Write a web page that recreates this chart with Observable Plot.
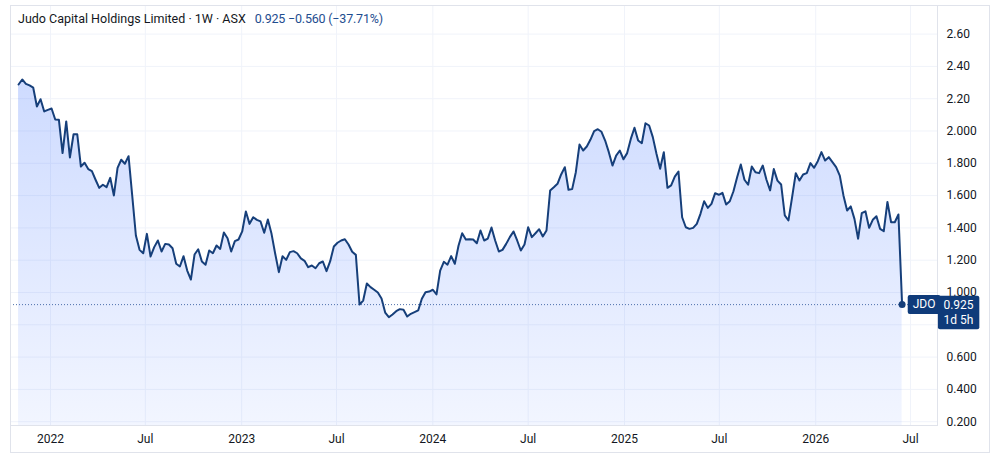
<!DOCTYPE html>
<html>
<head>
<meta charset="utf-8">
<script src="https://cdn.jsdelivr.net/npm/d3@7"></script>
<script src="https://cdn.jsdelivr.net/npm/@observablehq/plot@0.6"></script>
<style>
  html, body { margin: 0; padding: 0; background: #ffffff; }
  #wrap { position: relative; width: 1000px; height: 471px; font-family: Roboto, "Noto Sans", sans-serif; }
  #border { position: absolute; left: 10px; top: 5px; width: 980px; height: 448px; box-sizing: border-box; border: 1px solid #e0e3eb; }
  #chart { position: absolute; left: 0; top: 0; }
  #title { position: absolute; left: 18px; top: 11px; font-size: 12.5px; color: #131722; white-space: pre; }
  #title .val { color: #1e4d8f; margin-left: 9px; letter-spacing: -0.2px; }
</style>
</head>
<body>
<div id="wrap">
  <div id="border"></div>
  <div id="chart"></div>
  <div id="title"></div>
</div>
<script>
// ---- Data (weekly closes) ----
const symbol = "JDO";
const titleText = "Judo Capital Holdings Limited · 1W · ASX";
const lastText = "0.925";
const changeText = "−0.560 (−37.71%)";
const countdownText = "1d 5h";
const firstWeek = "2021-11-01";
const closes = [
  2.288, 2.319, 2.292, 2.282, 2.268, 2.152, 2.197, 2.121, 2.131, 2.139,
  2.071, 2.069, 1.863, 2.059, 1.836, 1.980, 1.980, 1.780, 1.803, 1.764,
  1.751, 1.698, 1.648, 1.667, 1.652, 1.710, 1.601, 1.772, 1.822, 1.797,
  1.844, 1.600, 1.353, 1.264, 1.243, 1.363, 1.223, 1.281, 1.322, 1.254,
  1.301, 1.297, 1.274, 1.178, 1.161, 1.225, 1.136, 1.080, 1.235, 1.268,
  1.192, 1.172, 1.260, 1.243, 1.291, 1.270, 1.372, 1.336, 1.254, 1.318,
  1.328, 1.378, 1.502, 1.425, 1.466, 1.450, 1.440, 1.370, 1.452, 1.363,
  1.240, 1.126, 1.225, 1.202, 1.250, 1.256, 1.243, 1.211, 1.196, 1.157,
  1.167, 1.150, 1.181, 1.192, 1.132, 1.194, 1.285, 1.308, 1.322, 1.330,
  1.297, 1.252, 1.233, 0.926, 0.950, 1.056, 1.033, 1.017, 1.000, 0.963,
  0.876, 0.847, 0.864, 0.884, 0.897, 0.893, 0.851, 0.868, 0.878, 0.889,
  0.961, 1.002, 1.006, 1.017, 0.988, 1.136, 1.190, 1.172, 1.225, 1.178,
  1.289, 1.367, 1.328, 1.330, 1.328, 1.305, 1.384, 1.322, 1.334, 1.402,
  1.322, 1.254, 1.264, 1.301, 1.343, 1.378, 1.322, 1.260, 1.297, 1.404,
  1.343, 1.367, 1.392, 1.347, 1.384, 1.632, 1.652, 1.673, 1.731, 1.776,
  1.636, 1.640, 1.745, 1.916, 1.879, 1.904, 1.947, 1.999, 2.011, 1.995,
  1.941, 1.869, 1.786, 1.848, 1.879, 1.825, 1.863, 1.951, 2.020, 1.941,
  1.924, 2.048, 2.034, 1.962, 1.859, 1.766, 1.869, 1.648, 1.663, 1.718,
  1.749, 1.466, 1.404, 1.394, 1.400, 1.425, 1.487, 1.565, 1.524, 1.549,
  1.615, 1.605, 1.617, 1.545, 1.565, 1.627, 1.714, 1.793, 1.698, 1.667,
  1.780, 1.745, 1.739, 1.786, 1.698, 1.632, 1.764, 1.693, 1.669, 1.477,
  1.446, 1.590, 1.739, 1.693, 1.731, 1.739, 1.801, 1.772, 1.813, 1.869,
  1.817, 1.838, 1.807, 1.776, 1.724, 1.601, 1.508, 1.533, 1.456, 1.333,
  1.491, 1.503, 1.400, 1.450, 1.472, 1.394, 1.380, 1.561, 1.435, 1.435,
  1.483, 0.925
];
const xTickDates = ["2022-01-01", "2022-07-01", "2023-01-01", "2023-07-01", "2024-01-01",
                    "2024-07-01", "2025-01-01", "2025-07-01", "2026-01-01", "2026-07-01"];
const xTickLabels = ["2022", "Jul", "2023", "Jul", "2024", "Jul", "2025", "Jul", "2026", "Jul"];
const yTicks = [0.2, 0.4, 0.6, 0.8, 1.0, 1.2, 1.4, 1.6, 1.8, 2.0, 2.2, 2.4, 2.6];
const yTickLabels = ["0.200", "0.400", "0.600", "0.800", "1.000", "1.200", "1.400", "1.600", "1.800", "2.000", "2.20", "2.40", "2.60"];

// ---- Build table ----
const start = new Date(firstWeek + "T00:00:00Z");
const data = closes.map((v, i) => ({ date: d3.utcMonday.offset(start, i), value: v }));
const last = data[data.length - 1];
const xTicks = xTickDates.map(s => new Date(s + "T00:00:00Z"));

const lineColor = "#163f7a";
const boxColor = "#0f3b7a";
const gridColor = "#f0f3fa";
const frameColor = "#e0e3eb";

const chart = Plot.plot({
  width: 1000,
  height: 471,
  marginLeft: 10,
  marginRight: 63,
  marginTop: 5,
  marginBottom: 46,
  style: { background: "transparent", fontFamily: "Roboto, 'Noto Sans', sans-serif", fontSize: "12px", color: "#131722", overflow: "visible" },
  x: { type: "utc", domain: [new Date("2021-10-16T14:00:00Z"), new Date("2026-08-21T14:00:00Z")] },
  y: { domain: [0.1765, 2.777] },
  marks: [
    Plot.gridX(xTicks, { stroke: gridColor, strokeOpacity: 1 }),
    Plot.gridY(yTicks, { stroke: gridColor, strokeOpacity: 1 }),
    Plot.areaY(data, { x: "date", y: "value", fill: "url(#jdoFill)", clip: true }),
    Plot.lineY(data, { x: "date", y: "value", stroke: lineColor, strokeWidth: 2, strokeLinejoin: "round" }),
    Plot.ruleY([last], { y: "value", stroke: "#3d62a3", strokeDasharray: "1,2", strokeWidth: 1, strokeOpacity: 0.9 }),
    Plot.frame({ stroke: frameColor }),
    Plot.dot([last], { x: "date", y: "value", r: 3.5, fill: lineColor, stroke: "none" }),
    Plot.axisY(yTicks, { anchor: "right", tickSize: 0, tickPadding: 9, label: null,
      tickFormat: d => yTickLabels[yTicks.indexOf(d)], fill: "#131722", fontSize: 12 }),
    Plot.axisX(xTicks, { anchor: "bottom", tickSize: 0, tickPadding: 9, label: null,
      tickFormat: d => xTickLabels[xTicks.findIndex(t => +t === +d)], fill: "#131722", fontSize: 12 }),
    Plot.text([last], { x: "date", y: "value", text: () => symbol, dx: 22, fill: "white",
      fontSize: 12, textAnchor: "middle" }),
    Plot.text([last], { y: "value", frameAnchor: "right", text: () => lastText + "\n" + countdownText,
      dx: 21, dy: -7, fill: "white", fontSize: 12, textAnchor: "middle", lineAnchor: "top",
      lineHeight: 1.3 })
  ]
});

document.getElementById("chart").appendChild(chart);

// gradient definition for the area fill
const NS = "http://www.w3.org/2000/svg";
const defs = document.createElementNS(NS, "defs");
const grad = document.createElementNS(NS, "linearGradient");
grad.setAttribute("id", "jdoFill");
grad.setAttribute("gradientUnits", "userSpaceOnUse");
grad.setAttribute("x1", "0"); grad.setAttribute("x2", "0");
grad.setAttribute("y1", "60"); grad.setAttribute("y2", "425");
[["0", 0.24], ["1", 0.06]].forEach(([off, op]) => {
  const s = document.createElementNS(NS, "stop");
  s.setAttribute("offset", off);
  s.setAttribute("stop-color", "#2962ff");
  s.setAttribute("stop-opacity", op);
  grad.appendChild(s);
});
defs.appendChild(grad);
chart.insertBefore(defs, chart.firstChild);

// background boxes behind the last-value labels (positions come from the rendered text)
function boxBehind(match, padX, padY) {
  const t = Array.from(chart.querySelectorAll("text")).find(el => el.textContent === match);
  if (!t) return;
  const bb = t.getBBox();
  const r = document.createElementNS(NS, "rect");
  r.setAttribute("x", bb.x - padX);
  r.setAttribute("y", bb.y - padY);
  r.setAttribute("width", bb.width + 2 * padX);
  r.setAttribute("height", bb.height + 2 * padY);
  r.setAttribute("rx", 2);
  r.setAttribute("fill", boxColor);
  const tr = t.getAttribute("transform");
  if (tr) r.setAttribute("transform", tr);
  t.parentNode.insertBefore(r, t);
}
boxBehind(symbol, 5, 2.5);
boxBehind(lastText + countdownText, 5.5, 2);

// title
const title = document.getElementById("title");
title.textContent = titleText;
const val = document.createElement("span");
val.className = "val";
val.textContent = lastText + " " + changeText;
title.appendChild(val);
</script>
</body>
</html>
